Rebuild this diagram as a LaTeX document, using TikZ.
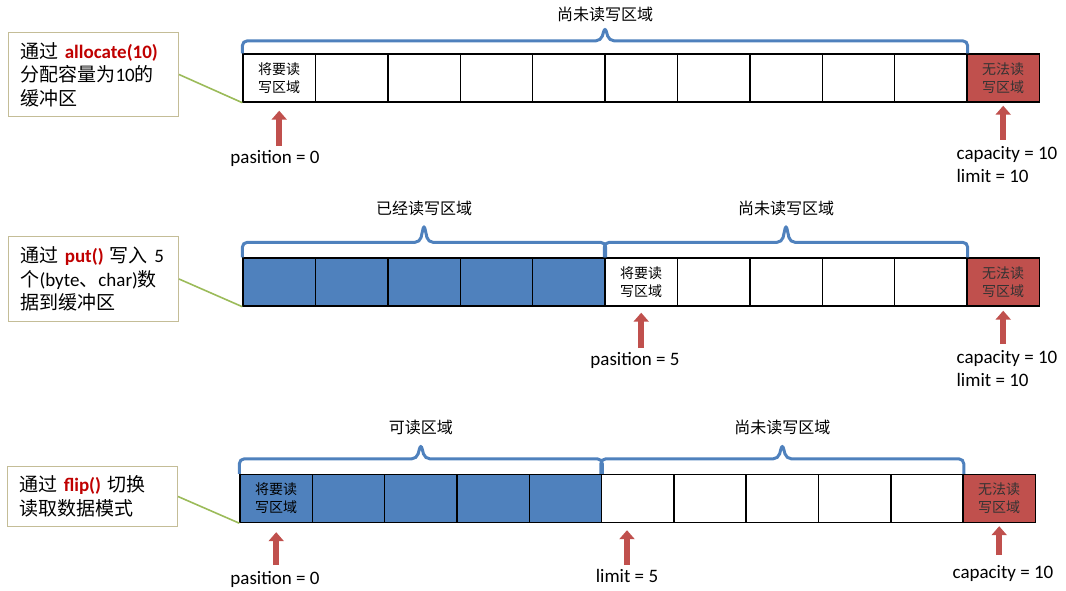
\documentclass[tikz,border=0pt]{standalone}
\usepackage{fontspec}
\setmainfont{Carlito}
\newfontfamily\cjk{Noto Sans CJK SC}
\usetikzlibrary{positioning,arrows.meta,calc}
\definecolor{cellblue}{HTML}{4F81BD}
\definecolor{cellred}{HTML}{C0504D}
\definecolor{ptrred}{HTML}{C0504D}
\definecolor{bracecol}{HTML}{4F81BD}
\definecolor{noteborder}{HTML}{C4BD97}
\definecolor{notegreen}{HTML}{9BBB59}
\definecolor{keyred}{HTML}{C00000}
\tikzset{
  cell/.style={draw=black,line width=1.4pt,minimum width=72.4pt,minimum height=48pt,
    inner sep=0pt,align=center,font=\cjk\fontsize{14}{18}\selectfont},
  full/.style={cell,fill=cellblue},
  closed/.style={cell,fill=cellred,text=black!80},
  note/.style={draw=noteborder,line width=1pt,fill=white,align=left,anchor=north west,
    inner xsep=12pt,inner ysep=4pt,text width=146pt,font=\fontsize{19}{23.5}\selectfont},
  notelink/.style={notegreen,line width=1.6pt},
  ptr/.style={ptrred,line width=6pt,-{Triangle[width=15pt,length=9pt]}},
  ptrlbl/.style={anchor=north,align=left,inner sep=0pt,font=\fontsize{19}{23}\selectfont},
  brc/.style={bracecol,line width=3pt,rounded corners=5pt},
  brclbl/.style={font=\cjk\fontsize{16}{18}\selectfont}
}
\newcommand{\key}[1]{{\bfseries\color{keyred}#1}}
% brace over the cells: from, to, rise, tip
\newcommand{\spanbrace}[4]{%
  \draw[brc] (#1) -- ($(#1)+(0,-#3)$) -- ($(#1)!0.5!(#2)+(-4,-#3)$)
    -- ($(#1)!0.5!(#2)+(0,-#3-#4)$) -- ($(#1)!0.5!(#2)+(4,-#3)$)
    -- ($(#2)+(0,-#3)$) -- (#2);}
\begin{document}
\begin{tikzpicture}[x=1pt,y=-1pt]
\useasboundingbox (0,0) rectangle (1066,591);

% allocate(10)
\node[note,minimum height=84pt] (n1) at (8,32)
  {{\cjk 通过} \key{allocate(10)}\\{\cjk 分配容量为}10{\cjk 的}\\{\cjk 缓冲区}};
\node[cell] (a0) at (279.2,78) {将要读\\写区域};
\foreach \i in {1,...,9}
  \node[cell] (a\i) at (279.2+72.4*\i,78) {};
\node[closed] (a10) at (1003.2,78) {无法读\\写区域};
\spanbrace{a0.north west}{a9.north east}{12.5}{14};
\node[brclbl] (t1) at ($(a0.north west)!0.5!(a9.north east)+(0,-39)$) {尚未读写区域};
\draw[notelink] (n1.east) -- (a0.south west);
\node[ptrlbl] (p1) at (275,150) {pasition = 0};
\node[ptrlbl] (k1) at (1007,146) {capacity = 10\\limit = 10};
\draw[ptr,shorten >=8pt] ([yshift=4pt]a0.south |- p1.north) -- (a0.south);
\draw[ptr,shorten >=3pt] ([yshift=6pt]a10.south |- k1.north) -- (a10.south);

% put()
\node[note,minimum height=85pt] (n2) at (8,236)
  {{\cjk 通过} \key{put()} {\cjk 写入} 5\\{\cjk 个}(byte{\cjk 、}char){\cjk 数}\\{\cjk 据到缓冲区}};
\foreach \i in {0,...,4}
  \node[full] (b\i) at (279.2+72.4*\i,282) {};
\node[cell] (b5) at (641.2,282) {将要读\\写区域};
\foreach \i in {6,...,9}
  \node[cell] (b\i) at (279.2+72.4*\i,282) {};
\node[closed] (b10) at (1003.2,282) {无法读\\写区域};
\spanbrace{b0.north west}{b4.north east}{15}{18};
\spanbrace{b5.north west}{b9.north east}{15}{18};
\node[brclbl] (t2) at ($(b0.north west)!0.5!(b4.north east)+(0,-49)$) {已经读写区域};
\node[brclbl] (t3) at ($(b5.north west)!0.5!(b9.north east)+(0,-49)$) {尚未读写区域};
\draw[notelink] (n2.east) -- (b0.south west);
\node[ptrlbl] (p2) at (635,352) {pasition = 5};
\node[ptrlbl] (k2) at (1007,350) {capacity = 10\\limit = 10};
\draw[ptr,shorten >=6pt] ([yshift=4pt]b5.south |- p2.north) -- (b5.south);
\draw[ptr,shorten >=4pt] ([yshift=6pt]b10.south |- k2.north) -- (b10.south);

% flip()
\node[note,minimum height=60pt] (n3) at (7,466)
  {{\cjk 通过} \key{flip()} {\cjk 切换}\\{\cjk 读取数据模式}};
\node[full] (c0) at (276.2,498.5) {将要读\\写区域};
\foreach \i in {1,...,4}
  \node[full] (c\i) at (276.2+72.3*\i,498.5) {};
\foreach \i in {5,...,9}
  \node[cell] (c\i) at (276.2+72.3*\i,498.5) {};
\node[closed] (c10) at (999.2,498.5) {无法读\\写区域};
\spanbrace{c0.north west}{c4.north east}{15}{15};
\spanbrace{c5.north west}{c9.north east}{15}{15};
\node[brclbl] (t4) at ($(c0.north west)!0.5!(c4.north east)+(0,-46)$) {可读区域};
\node[brclbl] (t5) at ($(c5.north west)!0.5!(c9.north east)+(0,-46)$) {尚未读写区域};
\draw[notelink] (n3.east) -- (c0.south west);
\node[ptrlbl] (p3) at (275,571) {pasition = 0};
\node[ptrlbl] (l3) at (627,569) {limit = 5};
\node[ptrlbl] (k3) at (1003,565) {capacity = 10};
\draw[ptr,shorten >=9pt] ([yshift=6pt]c0.south |- p3.north) -- (c0.south);
\draw[ptr,shorten >=7pt] ([yshift=4pt]l3.north) -- (l3.north |- c5.south);
\draw[ptr,shorten >=3pt] ([yshift=10pt]c10.south |- k3.north) -- (c10.south);
\end{tikzpicture}
\end{document}
